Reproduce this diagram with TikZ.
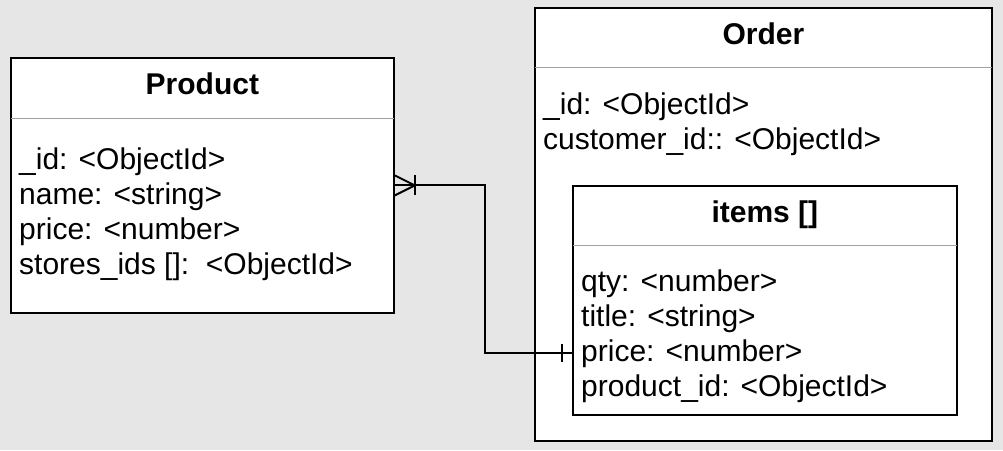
\documentclass[tikz,border=0pt]{standalone}
\usepackage{fontspec}
\setmainfont{Liberation Sans}
\usetikzlibrary{positioning}
\definecolor{canvas}{HTML}{E6E6E6}
\definecolor{rulegray}{HTML}{A0A0A0}

\begin{document}
\begin{tikzpicture}[x=1pt, y=-1pt, entity/.style={rectangle, draw, line width=1.8pt, fill=white, inner sep=0pt, anchor=north west}, head/.style={anchor=north, inner sep=0pt, text height=22pt, text depth=8pt, font=\fontsize{30}{36}\selectfont\bfseries}, attr/.style={anchor=base west, inner sep=0pt, font=\fontsize{30}{36}\selectfont}, divider/.style={draw=rulegray, line width=1.2pt}, link/.style={draw, line width=2pt}]

            \fill[canvas] (0,0) rectangle (1003,450);

            % boxes
            \node[entity, minimum width=383pt, minimum height=255pt] (product) at (10,57) {};
            \node[entity, minimum width=457pt, minimum height=433pt] (order) at (534,7) {};
            \node[entity, minimum width=384pt, minimum height=229pt] (items) at (572,185) {};

            % headers
            \node[head, minimum width=383pt, minimum height=61pt] (productHead) at (product.north) {Product};
            \node[head, minimum width=457pt, minimum height=60pt] (orderHead) at (order.north) {Order};
            \node[head, minimum width=384pt, minimum height=60pt] (itemsHead) at (items.north) {items []};
            \draw[divider] (productHead.south west) -- (productHead.south east);
            \draw[divider] (orderHead.south west) -- (orderHead.south east);
            \draw[divider] (itemsHead.south west) -- (itemsHead.south east);

            % fields
            \node[attr] (p1) at (19,169) {\_id: <ObjectId>};
            \node[attr] (p2) at ([yshift=-35pt]p1.base west) {name: <string>};
            \node[attr] (p3) at ([yshift=-35pt]p2.base west) {price: <number>};
            \node[attr] (p4) at ([yshift=-35pt]p3.base west) {stores\_ids []:\ \ <ObjectId>};
            \node[attr] (o1) at (543,114) {\_id: <ObjectId>};
            \node[attr] (o2) at ([yshift=-35pt]o1.base west) {customer\_id:: <ObjectId>};
            \node[attr] (i1) at (581,291) {qty: <number>};
            \node[attr] (i2) at ([yshift=-35pt]i1.base west) {title: <string>};
            \node[attr] (i3) at ([yshift=-35pt]i2.base west) {price: <number>};
            \node[attr] (i4) at ([yshift=-35pt]i3.base west) {product\_id: <ObjectId>};

            % relation
            \coordinate (fk) at (items.west |- i3);
            \path[link] (product.east) -- ++(90,0) |- (fk);
            \path[link] ([yshift=10pt]product.east) -- ([xshift=20pt]product.east) -- ([yshift=-10pt]product.east);
            \path[link] ([xshift=20pt, yshift=10pt]product.east) -- ([xshift=20pt, yshift=-10pt]product.east);
            \path[link] ([xshift=-10pt, yshift=9pt]fk) -- ([xshift=-10pt, yshift=-9pt]fk);

        \end{tikzpicture}
\end{document}
